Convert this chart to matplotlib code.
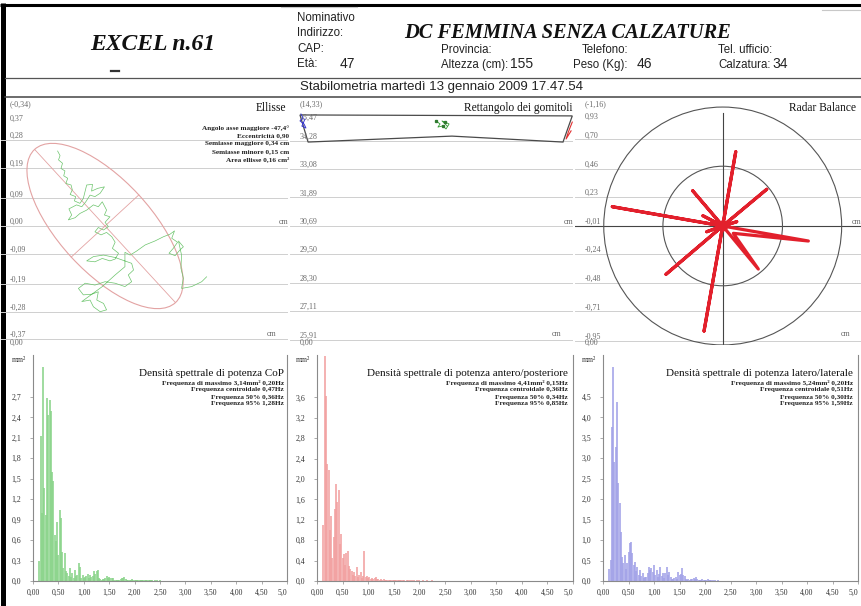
import numpy as np
import matplotlib
matplotlib.use("Agg")
import matplotlib.pyplot as plt
from matplotlib.patches import Ellipse, Circle, Polygon

SERIF = "Liberation Serif"
SANS = "Liberation Sans"
plt.rcParams["font.family"] = [SERIF, "DejaVu Serif"]

# ---------------------------------------------------------------- data
# Ellipse (CoP statokinesigram), cm
ell_ticks = [0.37, 0.28, 0.19, 0.09, 0.00, -0.09, -0.19, -0.28, -0.37]
ell_tick_labels = ["0,37", "0,28", "0,19", "0,09", "0,00", "-0,09", "-0,19", "-0,28", "-0,37"]
ell_xmin = -0.34
ell_center = (0.0, 0.0)
ell_semi_major = 0.34
ell_semi_minor = 0.15
ell_angle = -47.4
ell_info = ["Angolo asse maggiore -47,4°", "Eccentricità 0,90", "Semiasse maggiore 0,34 cm",
            "Semiasse minore 0,15 cm", "Area ellisse 0,16 cm²"]

cop_x = [-0.155, -0.147, -0.152, -0.139, -0.144, -0.131, -0.135, -0.122, -0.128, -0.111,
         -0.107, -0.114, -0.096, -0.100, -0.082, -0.071, -0.060, -0.041, -0.044, -0.024,
         -0.002, -0.016, -0.033, -0.049, -0.063, -0.076, -0.093, -0.118, -0.109, -0.120,
         -0.098, -0.082, -0.060, -0.038, -0.022, -0.009, 0.005, -0.002, 0.016, 0.000,
         0.011, -0.005, -0.022, -0.033, -0.013, 0.005, 0.022, 0.033, 0.024, 0.044,
         0.033, 0.016, -0.009, -0.033, -0.060, -0.038, -0.005, 0.033,
         0.087, 0.093, 0.076, 0.087, 0.065, 0.033, 0.000, -0.033, -0.065, -0.087,
         -0.071, -0.044, -0.022, -0.027, -0.005, 0.005, -0.016, -0.038, -0.049, -0.076,
         -0.009, 0.033, 0.065, 0.065,
         0.082, 0.103, 0.131, 0.163, 0.191, 0.212, 0.227, 0.218, 0.237, 0.223,
         0.209, 0.229, 0.245, 0.256, 0.240,
         0.250, 0.248, 0.256, 0.250, 0.283, 0.316, 0.332]
cop_y = [0.245, 0.230, 0.216, 0.205, 0.188, 0.180, 0.164, 0.156, 0.139, 0.134,
         0.118, 0.103, 0.096, 0.082, 0.074, 0.090, 0.134, 0.136, 0.114, 0.123,
         0.128, 0.107, 0.096, 0.101, 0.079, 0.063, 0.069, 0.056, 0.036, 0.020,
         0.027, 0.041, 0.052, 0.069, 0.063, 0.079, 0.052, 0.036, 0.030, 0.012,
         -0.002, -0.013, -0.005, -0.019, -0.029, -0.021, -0.035, -0.053, -0.073, -0.089,
         -0.108, -0.114, -0.106, -0.117, -0.114, -0.100, -0.095, -0.103,
         -0.122, -0.144, -0.160, -0.182, -0.198, -0.187, -0.182, -0.193, -0.187, -0.204,
         -0.225, -0.223, -0.215, -0.242, -0.253, -0.274, -0.280, -0.264, -0.242, -0.247,
         -0.198, -0.160, -0.133, -0.086,
         -0.095, -0.082, -0.062, -0.049, -0.035, -0.027, -0.016, -0.040, -0.053, -0.073,
         -0.089, -0.097, -0.078, -0.068, -0.049,
         -0.095, -0.138, -0.171, -0.204, -0.198, -0.182, -0.166]

# Rettangolo dei gomitoli, cm
rect_ticks = [35.47, 34.28, 33.08, 31.89, 30.69, 29.50, 28.30, 27.11, 25.91]
rect_tick_labels = ["35,47", "34,28", "33,08", "31,89", "30,69", "29,50", "28,30", "27,11", "25,91"]
rect_xmin = 14.33
rect_x = [14.75, 26.20, 25.81, 21.14, 15.09]
rect_y = [35.36, 35.32, 34.22, 34.47, 34.22]
left_elbow_x = [14.79, 14.88, 14.75, 14.92, 15.00, 14.83, 14.96]
left_elbow_y = [35.40, 35.23, 35.11, 34.98, 34.81, 34.89, 35.19]
mid_x = [20.47, 20.64, 20.55, 20.76, 20.89, 21.02, 20.85, 20.72, 20.93]
mid_y = [35.11, 34.98, 34.85, 34.90, 34.77, 34.98, 35.06, 35.11, 34.90]
right_elbow_x = [26.20, 26.10, 26.02, 25.94, 26.15]
right_elbow_y = [35.06, 34.81, 34.60, 34.35, 34.69]

# Radar Balance, cm
radar_ticks = [0.93, 0.70, 0.46, 0.23, -0.01, -0.24, -0.48, -0.71, -0.95]
radar_tick_labels = ["0,93", "0,70", "0,46", "0,23", "-0,01", "-0,24", "-0,48", "-0,71", "-0,95"]
radar_xmin_label = "(-1,16)"
radar_center = (0.0, -0.01)
radar_radii = [0.49, 0.975]
radar_x = [0.0, 0.107, 0.0, 0.361, 0.0, -0.246, 0.0, -0.905, 0.0, -0.162, 0.0, 0.115,
           0.0, 0.702, 0.087, 0.292, 0.0, -0.465, 0.0, -0.153, 0.0, -0.131, 0.0]
radar_y = [-0.01, 0.599, -0.01, 0.291, -0.01, 0.279, -0.01, 0.148, -0.01, 0.074, -0.01, 0.025,
           -0.01, -0.133, -0.070, -0.363, -0.01, -0.406, -0.01, -0.871, -0.01, -0.057, -0.01]

# Power spectral densities (mm²), frequency grid starts at 0.10 Hz, step 0.025 Hz
freq_start = 0.10
freq_step = 0.025
psd_cop = [0.00, 0.30, 2.12, 1.00, 3.14, 1.36, 0.97, 2.69, 2.44, 2.66,
           2.49, 1.60, 1.46, 0.68, 0.58, 0.87, 0.38, 1.04, 0.92, 0.43,
           0.19, 0.41, 0.14, 0.12, 0.08, 0.19, 0.06, 0.11, 0.05, 0.16,
           0.07, 0.09, 0.26, 0.21, 0.05, 0.09, 0.04, 0.06, 0.07, 0.10,
           0.05, 0.09, 0.06, 0.08, 0.14, 0.10, 0.15, 0.16, 0.05, 0.03,
           0.02, 0.03, 0.03, 0.04, 0.08, 0.05, 0.06, 0.04, 0.05, 0.05,
           0.02, 0.02, 0.01, 0.02, 0.02, 0.03, 0.05, 0.05, 0.06, 0.03,
           0.02, 0.01, 0.02, 0.02, 0.03, 0.02, 0.02, 0.01, 0.02, 0.01,
           0.02, 0.01, 0.01, 0.01, 0.01, 0.01, 0.01, 0.01, 0.01, 0.01,
           0.01, 0.00, 0.01, 0.00, 0.01, 0.00, 0.01]
psd_ap = [0.00, 1.10, 4.41, 3.62, 2.30, 2.17, 1.00, 1.28, 0.45, 0.86,
          1.41, 1.90, 1.55, 1.79, 0.72, 0.93, 0.45, 0.52, 0.31, 0.55,
          0.59, 0.30, 0.24, 0.20, 0.12, 0.17, 0.10, 0.28, 0.08, 0.12,
          0.17, 0.06, 0.10, 0.59, 0.08, 0.10, 0.05, 0.07, 0.04, 0.06,
          0.03, 0.05, 0.07, 0.03, 0.04, 0.02, 0.03, 0.02, 0.03, 0.02,
          0.01, 0.02, 0.01, 0.02, 0.01, 0.01, 0.01, 0.01, 0.02, 0.01,
          0.01, 0.01, 0.01, 0.01, 0.01, 0.00, 0.01, 0.01, 0.00, 0.01,
          0.01, 0.00, 0.01, 0.00, 0.01, 0.00, 0.01, 0.00, 0.00, 0.01,
          0.00, 0.00, 0.01, 0.00, 0.00, 0.00, 0.01, 0.00, 0.00, 0.00,
          0.00, 0.00, 0.00, 0.00, 0.00, 0.00, 0.00]
psd_ml = [0.00, 0.30, 0.51, 3.77, 5.24, 2.90, 3.28, 4.38, 2.39, 1.90,
          1.20, 0.59, 0.45, 0.64, 0.30, 0.43, 0.70, 0.92, 0.96, 0.68,
          0.40, 0.47, 0.25, 0.35, 0.15, 0.27, 0.12, 0.19, 0.08, 0.10,
          0.11, 0.20, 0.35, 0.28, 0.31, 0.22, 0.39, 0.15, 0.27, 0.10,
          0.18, 0.35, 0.12, 0.19, 0.08, 0.20, 0.35, 0.15, 0.23, 0.10,
          0.06, 0.05, 0.08, 0.11, 0.06, 0.23, 0.15, 0.18, 0.31, 0.15,
          0.12, 0.05, 0.03, 0.04, 0.03, 0.05, 0.06, 0.07, 0.05, 0.09,
          0.04, 0.03, 0.02, 0.03, 0.04, 0.03, 0.02, 0.03, 0.04, 0.02,
          0.03, 0.02, 0.02, 0.01, 0.02, 0.01, 0.02, 0.01, 0.01, 0.01,
          0.01, 0.01, 0.01, 0.00, 0.01, 0.00, 0.01]

psd_titles = ["Densità spettrale di potenza CoP",
              "Densità spettrale di potenza antero/posteriore",
              "Densità spettrale di potenza latero/laterale"]
psd_info = [["Frequenza di massimo 3,14mm² 0,20Hz", "Frequenza centroidale 0,47Hz",
             "Frequenza 50% 0,36Hz", "Frequenza 95% 1,28Hz"],
            ["Frequenza di massimo 4,41mm² 0,15Hz", "Frequenza centroidale 0,36Hz",
             "Frequenza 50% 0,34Hz", "Frequenza 95% 0,85Hz"],
            ["Frequenza di massimo 5,24mm² 0,20Hz", "Frequenza centroidale 0,51Hz",
             "Frequenza 50% 0,30Hz", "Frequenza 95% 1,59Hz"]]
psd_yticks = [[0.0, 0.3, 0.6, 0.9, 1.2, 1.5, 1.8, 2.1, 2.4, 2.7],
              [0.0, 0.4, 0.8, 1.2, 1.6, 2.0, 2.4, 2.8, 3.2, 3.6],
              [0.0, 0.5, 1.0, 1.5, 2.0, 2.5, 3.0, 3.5, 4.0, 4.5]]
psd_xticks = [0.0, 0.5, 1.0, 1.5, 2.0, 2.5, 3.0, 3.5, 4.0, 4.5, 5.0]
psd_xtick_labels = ["0,00", "0,50", "1,00", "1,50", "2,00", "2,50", "3,00", "3,50", "4,00", "4,50", "5,0"]

# ---------------------------------------------------------------- figure
W, H = 861, 606
fig = plt.figure(figsize=(W / 100, H / 100), dpi=100)
fig.patch.set_facecolor("white")
PT = 72 / 100  # points per pixel


def px_axes(x0, y0, x1, y1):
    ax = fig.add_axes([x0 / W, 1 - y1 / H, (x1 - x0) / W, (y1 - y0) / H])
    ax.set_facecolor("none")
    return ax


# page layer in pixel units
bg = px_axes(0, 0, W, H)
bg.set_xlim(0, W)
bg.set_ylim(H, 0)
bg.axis("off")

bg.plot([2.5, 2.5], [3, H], color="black", lw=3.6, solid_capstyle="butt")
bg.plot([0, W], [4.5, 4.5], color="black", lw=2.2, solid_capstyle="butt")
bg.plot([5, W], [77.5, 77.5], color="#555555", lw=0.9)
bg.plot([5, W], [97, 97], color="#444444", lw=1.1)
bg.plot([111, 119], [71, 71], color="#333333", lw=1.6)
bg.plot([281, 357], [7, 7], color="#c8c8c8", lw=0.8)
bg.plot([822, W], [10, 10], color="#c8c8c8", lw=0.8)

bg.text(153, 50, "EXCEL n.61", family=SERIF, weight="bold", style="italic",
        size=17, ha="center", va="baseline", color="#111111")
bg.text(568, 37.5, "DC FEMMINA SENZA CALZATURE", family=SERIF, weight="bold",
        style="italic", size=14.8, ha="center", va="baseline", color="#111111")

hdr = dict(family=SANS, size=8.3, va="center", ha="left", color="#222222")
bg.text(297, 18, "Nominativo", **hdr)
bg.text(297, 33, "Indirizzo:", **hdr)
bg.text(297, 49, "CAP:", **hdr)
bg.text(297, 64, "Età:", **hdr)
bg.text(340, 64, "47", **{**hdr, "size": 10})
bg.text(441, 50, "Provincia:", **hdr)
bg.text(441, 65, "Altezza (cm):", **hdr)
bg.text(510, 64.5, "155", **{**hdr, "size": 10})
bg.text(582, 50, "Telefono:", **hdr)
bg.text(573, 65, "Peso (Kg):", **hdr)
bg.text(637, 64.5, "46", **{**hdr, "size": 10})
bg.text(718, 50, "Tel. ufficio:", **hdr)
bg.text(718, 65, "Calzatura:", **hdr)
bg.text(772, 64.5, "34", **{**hdr, "size": 10})
bg.text(441, 87, "Stabilometria martedì 13 gennaio 2009 17.47.54", family=SANS,
        size=9.5, ha="center", va="center", color="#222222")

GRID = "#cfcfcf"
LAB = "#6a6a6a"


def top_panel(ax, ticks, labels, xmin_label, left_pad_px, title, title_x, cm_x, cm2_x):
    for v in ticks[1:]:
        ax.axhline(v, color=GRID, lw=0.7, zorder=0)
    for i, (v, lab) in enumerate(zip(ticks, labels)):
        dy = -4.0 if i == 0 else 2.9
        ax.annotate(lab, xy=(0, v), xycoords=("axes fraction", "data"),
                    xytext=(left_pad_px * PT, dy), textcoords="offset points",
                    ha="left", va="center", size=5.8, color=LAB)
    ax.annotate(xmin_label, xy=(0, 1), xycoords="axes fraction",
                xytext=(left_pad_px * PT, -5 * PT), textcoords="offset points",
                ha="left", va="center", size=5.8, color=LAB)
    ax.annotate("0,00", xy=(0, 0), xycoords="axes fraction",
                xytext=(left_pad_px * PT, 2 * PT), textcoords="offset points",
                ha="left", va="center", size=5.8, color=LAB)
    ax.set_xticks([])
    ax.set_yticks([])
    for s in ax.spines.values():
        s.set_visible(False)
    bg.text(title_x, 108, title, size=8.3, ha="right", va="center", color="#111111")
    bg.text(cm_x, 222, "cm", size=5.8, ha="right", va="center", color=LAB)
    bg.text(cm2_x, 334, "cm", size=5.8, ha="center", va="center", color=LAB)


# ---- Ellisse
S1 = 306.0  # px per cm
ax1 = px_axes(1, 99, 288, 345)
ax1.set_xlim(ell_xmin, ell_xmin + 287 / S1)
ax1.set_ylim(ell_center[1] - 119 / S1, ell_center[1] + 127 / S1)
top_panel(ax1, ell_ticks, ell_tick_labels, "(-0,34)", 9, "Ellisse", 286, 288, 272)
ax1.add_patch(Ellipse(ell_center, 2 * ell_semi_major, 2 * ell_semi_minor, angle=ell_angle,
                      fill=False, ec="#e3a3a3", lw=0.8, zorder=2))
th = np.deg2rad(ell_angle)
ux, uy = np.cos(th), np.sin(th)
cx, cy = ell_center
ax1.plot([cx - ell_semi_major * ux, cx + ell_semi_major * ux],
         [cy - ell_semi_major * uy, cy + ell_semi_major * uy], color="#e3a3a3", lw=0.6, zorder=2)
ax1.plot([cx + ell_semi_minor * uy, cx - ell_semi_minor * uy],
         [cy - ell_semi_minor * ux, cy + ell_semi_minor * ux], color="#e3a3a3", lw=0.6, zorder=2)
ax1.plot(cop_x, cop_y, color="#6cc46c", lw=0.5, zorder=3)
for k, line in enumerate(ell_info):
    bg.text(289, 128 + 7.7 * k, line, size=5.2, weight="bold", ha="right", va="center",
            color="#222222")

# ---- Rettangolo dei gomitoli
S2 = 23.78
ax2 = px_axes(290, 99, 573, 345)
ax2.set_xlim(rect_xmin, rect_xmin + 283 / S2)
ax2.set_ylim(30.69 - 119 / S2, 30.69 + 127 / S2)
top_panel(ax2, rect_ticks, rect_tick_labels, "(14,33)", 10, "Rettangolo dei gomitoli",
          573, 573, 557)
ax2.add_patch(Polygon(np.column_stack([rect_x, rect_y]), closed=True, fill=False,
                      ec="#4a4a4a", lw=0.9, zorder=2))
ax2.plot(left_elbow_x, left_elbow_y, color="#3a3ad0", lw=0.7, zorder=3)
ax2.plot(mid_x, mid_y, color="#2f9a2f", lw=0.6, zorder=3)
ax2.plot(mid_x[::3], mid_y[::3], "s", color="#2f7a2f", ms=1.4, zorder=3)
ax2.plot(right_elbow_x, right_elbow_y, color="#e03030", lw=0.8, zorder=3)

# ---- Radar Balance
S3 = 122.0
ax3 = px_axes(575, 99, W, 345)
ax3.set_xlim(radar_center[0] - 147.7 / S3, radar_center[0] + (W - 575 - 147.7) / S3)
ax3.set_ylim(radar_center[1] - 119 / S3, radar_center[1] + 127 / S3)
top_panel(ax3, radar_ticks, radar_tick_labels, radar_xmin_label, 10, "Radar Balance",
          856, 861, 846)
ax3.axhline(radar_center[1], color="#444444", lw=0.8, zorder=1)
ax3.plot([radar_center[0], radar_center[0]], [radar_center[1] - 1.2, radar_center[1] + 0.93],
         color="#444444", lw=0.8, zorder=1)
for r in radar_radii:
    ax3.add_patch(Circle(radar_center, r, fill=False, ec="#555555", lw=0.8, zorder=1))
ax3.plot(radar_x, radar_y, color="#e2202c", lw=2.3, solid_joinstyle="round",
         solid_capstyle="round", zorder=3)
ax3.add_patch(Circle(radar_center, 0.04, color="#e2202c", zorder=4))

# ---- spectra
psd_series = [psd_cop, psd_ap, psd_ml]
psd_colors = ["#8ad48a", "#f2a0a0", "#a2a2e8"]
psd_boxes = [(33, 287), (317, 573), (603, 858)]
psd_ymax = [226 / 68.2, 226 / 51.0, 226 / 40.9]
mm_x = [12, 296, 582]
title_right = [284, 568, 853]

for vals, col, (x0, x1), ymax, yt, title, info, mx, tr in zip(
        psd_series, psd_colors, psd_boxes, psd_ymax, psd_yticks, psd_titles, psd_info,
        mm_x, title_right):
    ax = px_axes(x0, 355, x1, 581)
    freq = freq_start + freq_step * np.arange(len(vals))
    ax.vlines(freq, 0, vals, color=col, lw=1.15)
    ax.set_xlim(0, 5)
    ax.set_ylim(0, ymax)
    ax.set_xticks(psd_xticks)
    ax.set_xticklabels(psd_xtick_labels)
    ax.get_xticklabels()[-1].set_horizontalalignment("right")
    ax.set_yticks(yt)
    ax.set_yticklabels([f"{v:.1f}".replace(".", ",") for v in yt])
    ax.spines["top"].set_visible(False)
    for side in ("left", "right", "bottom"):
        ax.spines[side].set_color("#8a8a8a")
        ax.spines[side].set_linewidth(0.8)
    ax.tick_params(axis="both", direction="out", length=2.5, width=0.5, color="#8a8a8a",
                   labelsize=5.6, labelcolor="#333333")
    ax.tick_params(axis="y", pad=6)
    ax.tick_params(axis="x", pad=3)
    bg.text(mx, 360, "mm²", size=5.6, ha="left", va="center", color="#333333")
    bg.text(tr, 373, title, size=8.0, ha="right", va="center", color="#111111")
    for k, line in enumerate(info):
        bg.text(tr, 383 + 7 * k, line, size=5.2, weight="bold", ha="right", va="center",
                color="#222222")

fig.savefig("out.png", dpi=100, facecolor="white")
